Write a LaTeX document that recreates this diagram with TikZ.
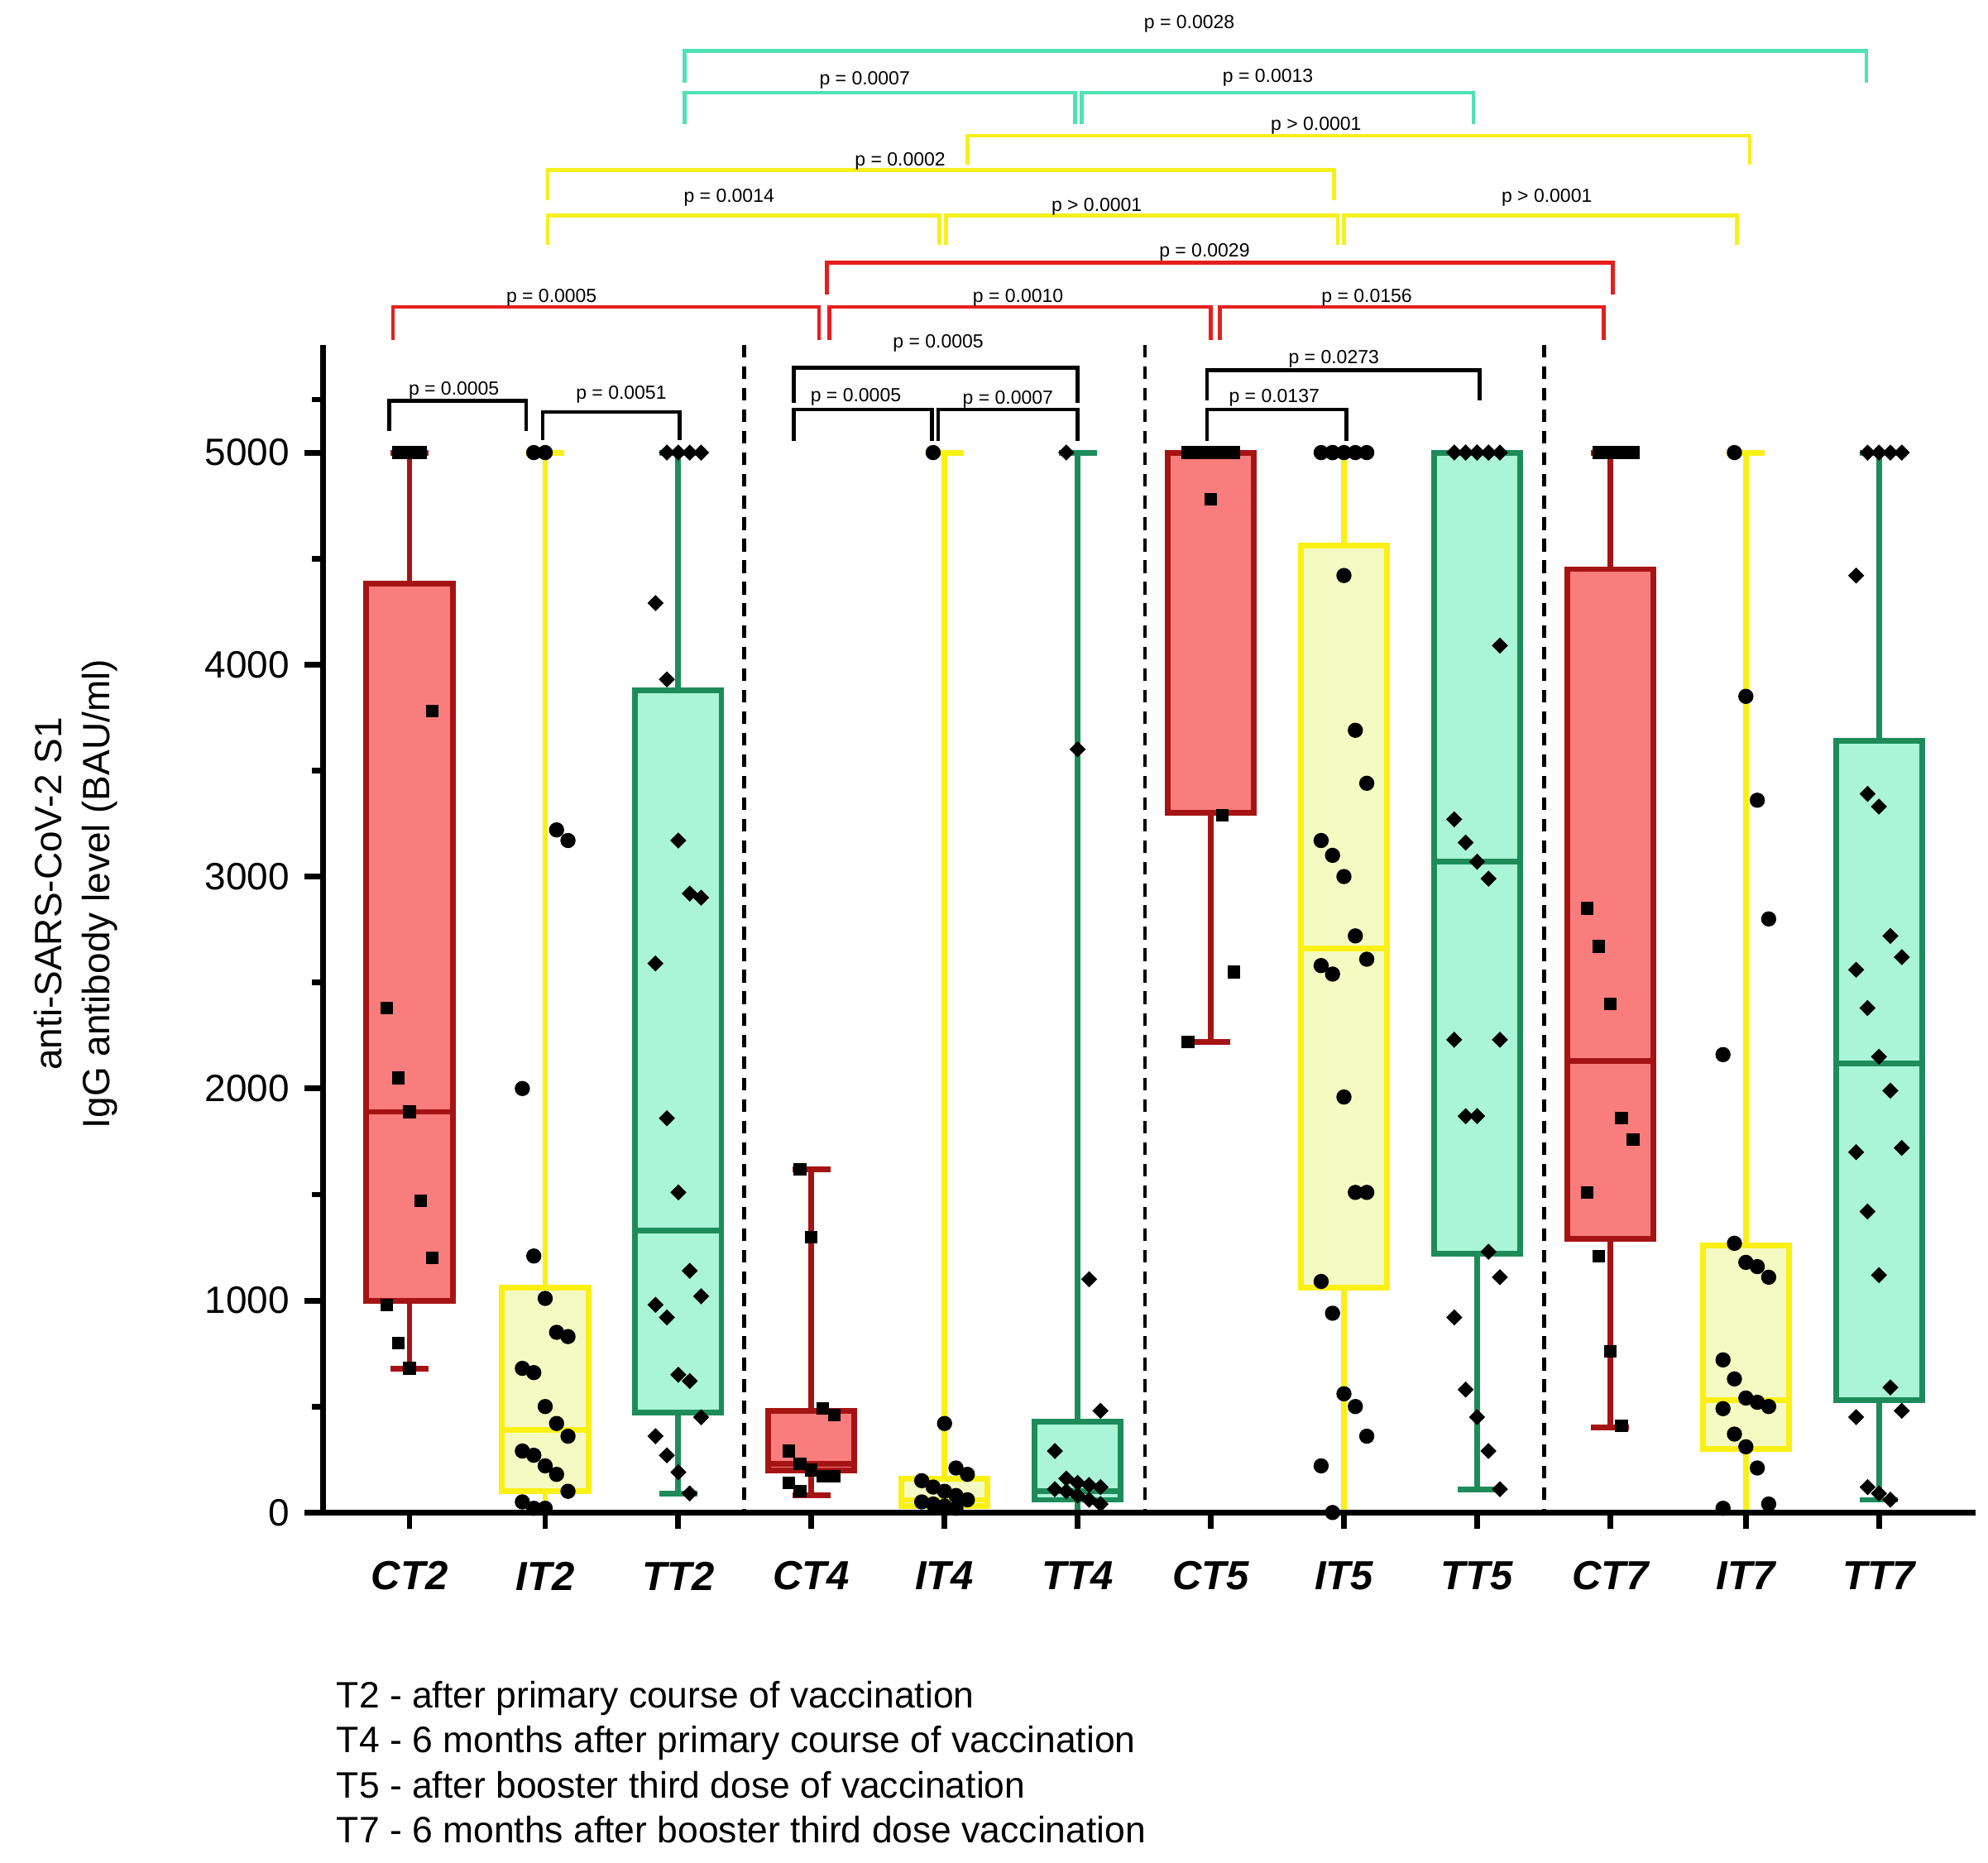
\documentclass[tikz,border=0pt]{standalone}
\usepackage{fontspec}
\setmainfont{Liberation Sans}
\definecolor{cfill}{RGB}{250,125,125}\definecolor{cdraw}{RGB}{165,20,20}
\definecolor{ifill}{RGB}{245,250,195}\definecolor{idraw}{RGB}{250,240,20}
\definecolor{tfill}{RGB}{170,245,215}\definecolor{tdraw}{RGB}{30,140,90}
\definecolor{bcyan}{RGB}{80,225,180}\definecolor{bred}{RGB}{230,30,30}\definecolor{byel}{RGB}{245,240,30}
\newcommand\bx[8]{%
 \draw[line width=4.5pt,#8] (#1,{1193-#2*0.1672}) -- (#1,{1193-#3*0.1672}) (#1,{1193-#5*0.1672}) -- (#1,{1193-#6*0.1672});
 \draw[line width=4.5pt,#8] ({#1-15},{1193-#2*0.1672}) -- ({#1+15},{1193-#2*0.1672}) ({#1-15},{1193-#6*0.1672}) -- ({#1+15},{1193-#6*0.1672});
 \draw[line width=4.5pt,#8,fill=#7] ({#1-34},{1193-#3*0.1672}) rectangle ({#1+34},{1193-#5*0.1672});
 \draw[line width=4.5pt,#8] ({#1-34},{1193-#4*0.1672}) -- ({#1+34},{1193-#4*0.1672});}
\newcommand\pts[3]{\foreach \v [count=\i] in {#3} {\path ({#1+(mod(\i,5)-2)*9},{1193-\v*0.1672}) node[#2]{};}}
\newcommand\brk[6]{% x1 x2 ytop yl yr style
 \draw[line width=3pt,#6] (#1,#4) -- (#1,#3) -- (#2,#3) -- (#2,#5);}
\begin{document}
\begin{tikzpicture}[x=1pt,y=-1pt,
 sq/.style={fill=black,minimum size=10pt,inner sep=0pt,draw=none,rectangle},
 ci/.style={fill=black,minimum size=12pt,inner sep=0pt,circle},
 di/.style={fill=black,minimum size=9pt,inner sep=0pt,rectangle,rotate=45},
 pl/.style={font=\fontsize{15}{16}\selectfont,anchor=south,inner sep=1pt},
 tk/.style={font=\fontsize{30}{32}\selectfont,anchor=east},
 cat/.style={font=\fontsize{32}{34}\selectfont\bfseries\itshape}]
\useasboundingbox (0,0) rectangle (1568,1469);
\foreach \xx in {587,903,1218} \draw[line width=3pt,dash pattern=on 10pt off 7pt] (\xx,272) -- (\xx,1193);
\bx{323}{680}{1000}{1890}{4380}{5000}{cfill}{cdraw}
\bx{430}{0}{100}{390}{1060}{5000}{ifill}{idraw}
\bx{535}{90}{470}{1330}{3880}{5000}{tfill}{tdraw}
\bx{640}{80}{200}{230}{480}{1620}{cfill}{cdraw}
\bx{745}{0}{30}{60}{160}{5000}{ifill}{idraw}
\bx{850}{0}{60}{100}{430}{5000}{tfill}{tdraw}
\bx{955}{2220}{3300}{5000}{5000}{5000}{cfill}{cdraw}
\bx{1060}{0}{1060}{2660}{4560}{5000}{ifill}{idraw}
\bx{1165}{110}{1220}{3070}{5000}{5000}{tfill}{tdraw}
\bx{1270}{400}{1290}{2130}{4450}{5000}{cfill}{cdraw}
\bx{1377}{0}{300}{530}{1260}{5000}{ifill}{idraw}
\bx{1482}{60}{530}{2120}{3640}{5000}{tfill}{tdraw}
\pts{323}{sq}{5000,5000,5000,3780,2380,2050,1890,1470,1200,980,800,680}
\pts{430}{ci}{5000,5000,3220,3170,2000,1210,1010,850,830,680,660,500,420,360,290,270,220,180,100,50,20,20}
\pts{535}{di}{5000,5000,5000,5000,4290,3930,3170,2920,2900,2590,1860,1510,1140,1020,980,920,650,620,450,360,270,190,90}
\pts{640}{sq}{1620,1300,490,460,290,230,200,170,170,140,100}
\pts{745}{ci}{5000,420,210,180,150,120,100,80,60,50,40,30,20}
\pts{850}{di}{5000,3600,1100,480,290,160,140,130,120,110,100,80,60,40}
\pts{955}{sq}{5000,5000,5000,5000,5000,5000,4780,3290,2550,2220}
\pts{1060}{ci}{5000,5000,5000,5000,5000,5000,4420,3690,3440,3170,3100,3000,2720,2610,2580,2540,1960,1510,1510,1090,940,560,500,360,220,0}
\pts{1165}{di}{5000,5000,5000,5000,5000,5000,5000,5000,4090,3270,3160,3070,2990,2230,2230,1870,1870,1230,1110,920,580,450,290,110}
\pts{1270}{sq}{5000,5000,5000,5000,2850,2670,2400,1860,1760,1510,1210,760,410}
\pts{1377}{ci}{5000,3850,3360,2800,2160,1270,1180,1160,1110,720,630,540,520,500,490,370,310,210,40,20}
\pts{1482}{di}{5000,5000,5000,5000,4420,3390,3330,2720,2620,2560,2380,2150,1990,1720,1700,1420,1120,590,480,450,120,90,60}
\draw[line width=4.5pt] (255,272) -- (255,1193) -- (1558,1193);
\foreach \t in {0,1000,2000,3000,4000,5000} {
 \draw[line width=4.5pt] (255,{1193-\t*0.1672}) -- (240,{1193-\t*0.1672});
 \node[tk] (t\t) at (232,{1193-\t*0.1672}) {\t};}
\foreach \t in {500,1500,2500,3500,4500,5250} \draw[line width=4.5pt] (255,{1193-\t*0.1672}) -- (246,{1193-\t*0.1672});
\foreach \xx/\n in {323/CT2,430/IT2,535/TT2,640/CT4,745/IT4,850/TT4,955/CT5,1060/IT5,1165/TT5,1270/CT7,1377/IT7,1482/TT7}{
 \draw[line width=4.5pt] (\xx,1193) -- (\xx,1206);
 \node[cat] (c\n) at (\xx,1243) {\n};}
\node[rotate=90,align=center,font=\fontsize{30}{38}\selectfont] (ylab) at (60,705) {anti-SARS-CoV-2 S1\\IgG antibody level (BAU/ml)};
\brk{310}{646}{242}{268}{268}{bred}\node[pl] (p1) at (435,243) {p = 0.0005};
\brk{654}{955}{242}{268}{268}{bred}\node[pl] (p2) at (803,243) {p = 0.0010};
\brk{962}{1265}{242}{268}{268}{bred}\node[pl] (p3) at (1078,243) {p = 0.0156};
\brk{652}{1272}{207}{232}{232}{bred}\node[pl] (p4) at (950,207) {p = 0.0029};
\brk{432}{741}{170}{193}{193}{byel}\node[pl] (p5) at (575,164) {p = 0.0014};
\brk{746}{1055}{170}{193}{193}{byel}\node[pl] (p6) at (865,171) {p > 0.0001};
\brk{1060}{1370}{170}{193}{193}{byel}\node[pl] (p7) at (1220,164) {p > 0.0001};
\brk{432}{1052}{134}{158}{158}{byel}\node[pl] (p8) at (710,135) {p = 0.0002};
\brk{763}{1380}{107}{130}{130}{byel}\node[pl] (p9) at (1038,107) {p > 0.0001};
\brk{540}{1472}{40}{65}{65}{bcyan}\node[pl] (p10) at (938,27) {p = 0.0028};
\brk{540}{848}{73}{98}{98}{bcyan}\node[pl] (p11) at (682,71) {p = 0.0007};
\brk{853}{1162}{73}{98}{98}{bcyan}\node[pl] (p12) at (1000,69) {p = 0.0013};
\brk{307}{415}{316}{340}{340}{black}\node[pl] (p13) at (358,316) {p = 0.0005};
\brk{428}{536}{325}{347}{347}{black}\node[pl] (p14) at (490,319) {p = 0.0051};
\brk{626}{850}{290}{318}{318}{black}\node[pl] (p15) at (740,279) {p = 0.0005};
\brk{626}{735}{323}{348}{348}{black}\node[pl] (p16) at (675,321) {p = 0.0005};
\brk{740}{850}{323}{348}{348}{black}\node[pl] (p17) at (795,323) {p = 0.0007};
\brk{952}{1167}{292}{316}{316}{black}\node[pl] (p18) at (1052,291) {p = 0.0273};
\brk{952}{1062}{323}{348}{348}{black}\node[pl] (p19) at (1005,322) {p = 0.0137};
\node[anchor=west,align=left,font=\fontsize{29}{35.5}\selectfont] (leg) at (262,1390) {T2 - after primary course of vaccination\\T4 - 6 months after primary course of vaccination\\T5 - after booster third dose of vaccination\\T7 - 6 months after booster third dose vaccination};
\end{tikzpicture}
\end{document}
